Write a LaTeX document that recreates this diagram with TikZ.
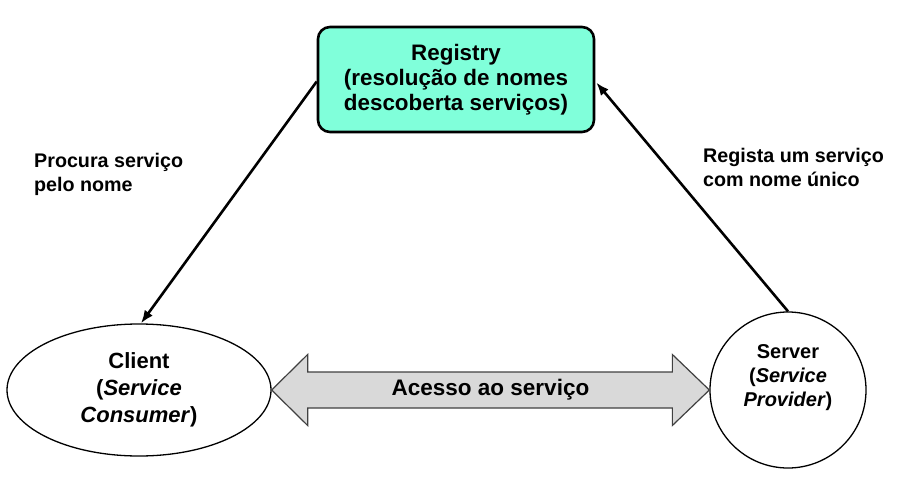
\documentclass[tikz,border=0pt]{standalone}
\usepackage{fontspec}
\setmainfont{Liberation Sans}
\usetikzlibrary{shapes.geometric,arrows.meta,calc}
\definecolor{regfill}{RGB}{128,255,218}
\definecolor{dblfill}{RGB}{217,217,217}
\definecolor{dbldraw}{RGB}{64,64,64}
\tikzset{
  regbox/.style={draw=black, line width=2.6pt, fill=regfill, rounded corners=12pt,
    minimum width=276pt, minimum height=105pt, inner sep=0pt, align=center,
    font=\fontsize{22.4}{25}\selectfont\bfseries},
  cliente/.style={ellipse, draw=black, line width=1.3pt, minimum width=264pt,
    minimum height=132pt, inner sep=0pt, align=center,
    font=\fontsize{22}{27}\selectfont\bfseries},
  servidor/.style={circle, draw=black, line width=1.3pt, minimum size=156pt,
    inner sep=0pt, align=center, text depth=28.5pt,
    font=\fontsize{20}{24}\selectfont\bfseries},
  lbl/.style={anchor=base west, inner sep=0pt, align=left,
    font=\fontsize{19.7}{23.5}\selectfont\bfseries},
  arr/.style={line width=2.6pt, -{Latex[length=13pt,width=10pt]}},
  dbl/.style={draw=dbldraw, line width=1.2pt, fill=dblfill, line join=miter},
  dbltext/.style={inner sep=0pt, font=\fontsize{22.5}{27}\selectfont\bfseries}
}
\begin{document}
\begin{tikzpicture}[x=1pt,y=-1pt]
\useasboundingbox (0,0) rectangle (910,487);
\node[regbox] (registry) at (456,79.5) {Registry\\(resolução de nomes\\descoberta serviços)};
\node[cliente] (client) at (139,390) {Client\\(\textit{Service}\\\textit{Consumer})};
\node[servidor] (server) at (788,390) {Server\\(\textit{Service}\\\textit{Provider})};
\draw[dbl] (client.east) -- ++(36,-35.5) -- ++(0,17.5)
  -- ($(server.west)+(-37,-18)$) -- ++(0,-17.5) -- (server.west)
  -- ++(-37,35.5) -- ++(0,-17.5) -- ($(client.east)+(36,18)$) -- ++(0,17.5) -- cycle;
\node[dbltext] (acesso) at ($(client.east)!0.5!(server.west)$) {Acesso ao serviço};
\draw[arr] ($(registry.west)+(0,2)$) -- ($(client.north)+(2,0)$);
\draw[arr] (server.north) -- ($(registry.east)+(1,3)$);
\node[lbl] (procura) at (34,191) {Procura serviço\\pelo nome};
\node[lbl] (regista) at (703,186) {Regista um serviço\\com nome único};
\end{tikzpicture}
\end{document}
